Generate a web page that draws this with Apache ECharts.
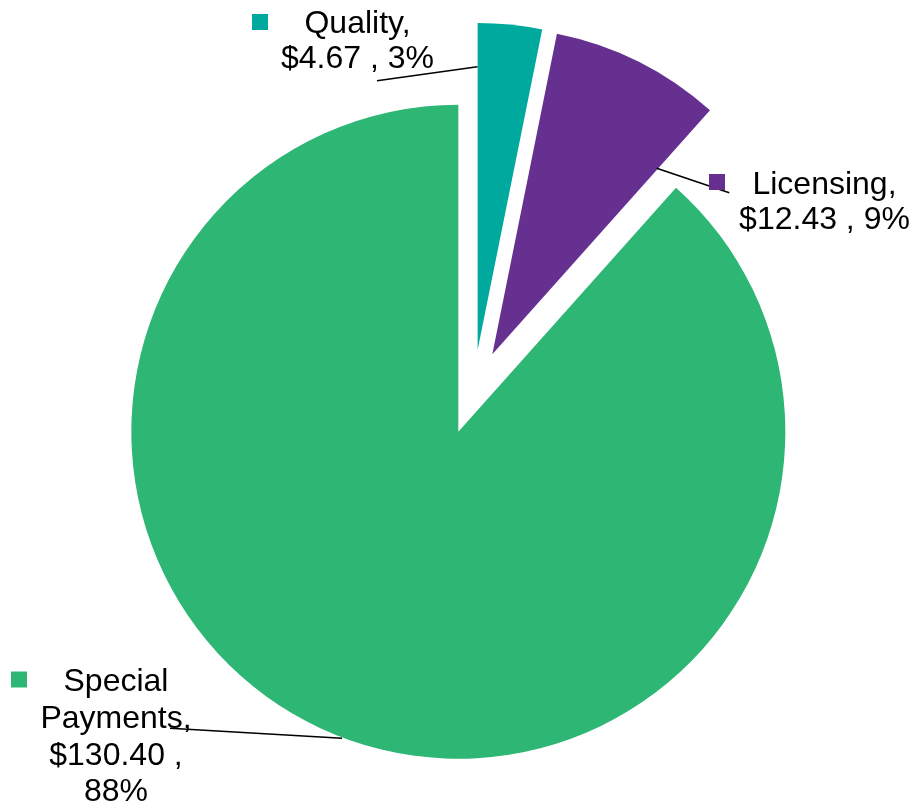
<!DOCTYPE html>
<html>
<head>
<meta charset="utf-8">
<title>Funding by category</title>
<script src="https://cdn.jsdelivr.net/npm/echarts@6/dist/echarts.min.js"></script>
<style>
  html, body { margin: 0; padding: 0; background: #ffffff; }
  #chart { width: 912px; height: 806px; }
</style>
</head>
<body>
<div id="chart"></div>
<script>
// Categories and amounts (in $), plus the share shown on each label
const categories = ['Quality', 'Licensing', 'Special Payments'];
const amounts = [4.67, 12.43, 130.40];
const shareLabels = ['3%', '9%', '88%'];
const sliceColors = ['#00A99D', '#663090', '#2DB674'];

// Label layout: centre of the text column, top of the block, line height,
// key square, whether the text is stacked narrowly, and the leader line.
const labelPlacement = [
  { cx: 357.5, top: 6.5,  lh: 35,   key: [252, 14, 16],    narrow: false, line: [[477.5, 66.7], [377, 80.7]] },
  { cx: 824.5, top: 168,  lh: 35,   key: [709, 174, 16],   narrow: false, line: [[656.7, 168.3], [729.3, 192.7]] },
  { cx: 116,   top: 664,  lh: 36.7, key: [11, 671.5, 16],  narrow: true,  line: [[342, 738.3], [170, 728.3]] }
];

const FONT = '32px "Liberation Sans", Arial, sans-serif';

function labelText(i) {
  const name = categories[i] + ',';
  const value = '$' + amounts[i].toFixed(2) + ' ,';
  const share = shareLabels[i];
  const lines = labelPlacement[i].narrow
    ? name.split(' ').concat([value, share])
    : [name, value + ' ' + share];
  return lines.join('\n');
}

// Data labels with legend keys and leader lines
const labelGraphics = [];
categories.forEach(function (name, i) {
  const pl = labelPlacement[i];
  labelGraphics.push({
    type: 'polyline',
    z: 10,
    silent: true,
    shape: { points: pl.line },
    style: { stroke: '#000000', lineWidth: 1.6, fill: null }
  });
  labelGraphics.push({
    type: 'rect',
    z: 10,
    silent: true,
    shape: { x: pl.key[0], y: pl.key[1], width: pl.key[2], height: pl.key[2] },
    style: { fill: sliceColors[i] }
  });
  labelGraphics.push({
    type: 'text',
    z: 11,
    silent: true,
    x: pl.cx,
    y: pl.top,
    style: {
      text: labelText(i),
      font: FONT,
      lineHeight: pl.lh,
      fill: '#000000',
      align: 'center',
      verticalAlign: 'top'
    }
  });
});

const chart = echarts.init(document.getElementById('chart'), null, { renderer: 'canvas' });

chart.setOption({
  backgroundColor: '#ffffff',
  animation: false,
  graphic: { elements: labelGraphics },
  series: [{
    type: 'pie',
    center: [473.4, 392.2],
    radius: 327,
    startAngle: 90,
    clockwise: true,
    selectedMode: 'multiple',
    selectedOffset: 42.3,
    emphasis: { disabled: true },
    itemStyle: { borderWidth: 0 },
    label: { show: false },
    labelLine: { show: false },
    data: categories.map(function (name, i) {
      return {
        name: name,
        value: amounts[i],
        selected: true,
        itemStyle: { color: sliceColors[i] }
      };
    })
  }]
});
</script>
</body>
</html>
